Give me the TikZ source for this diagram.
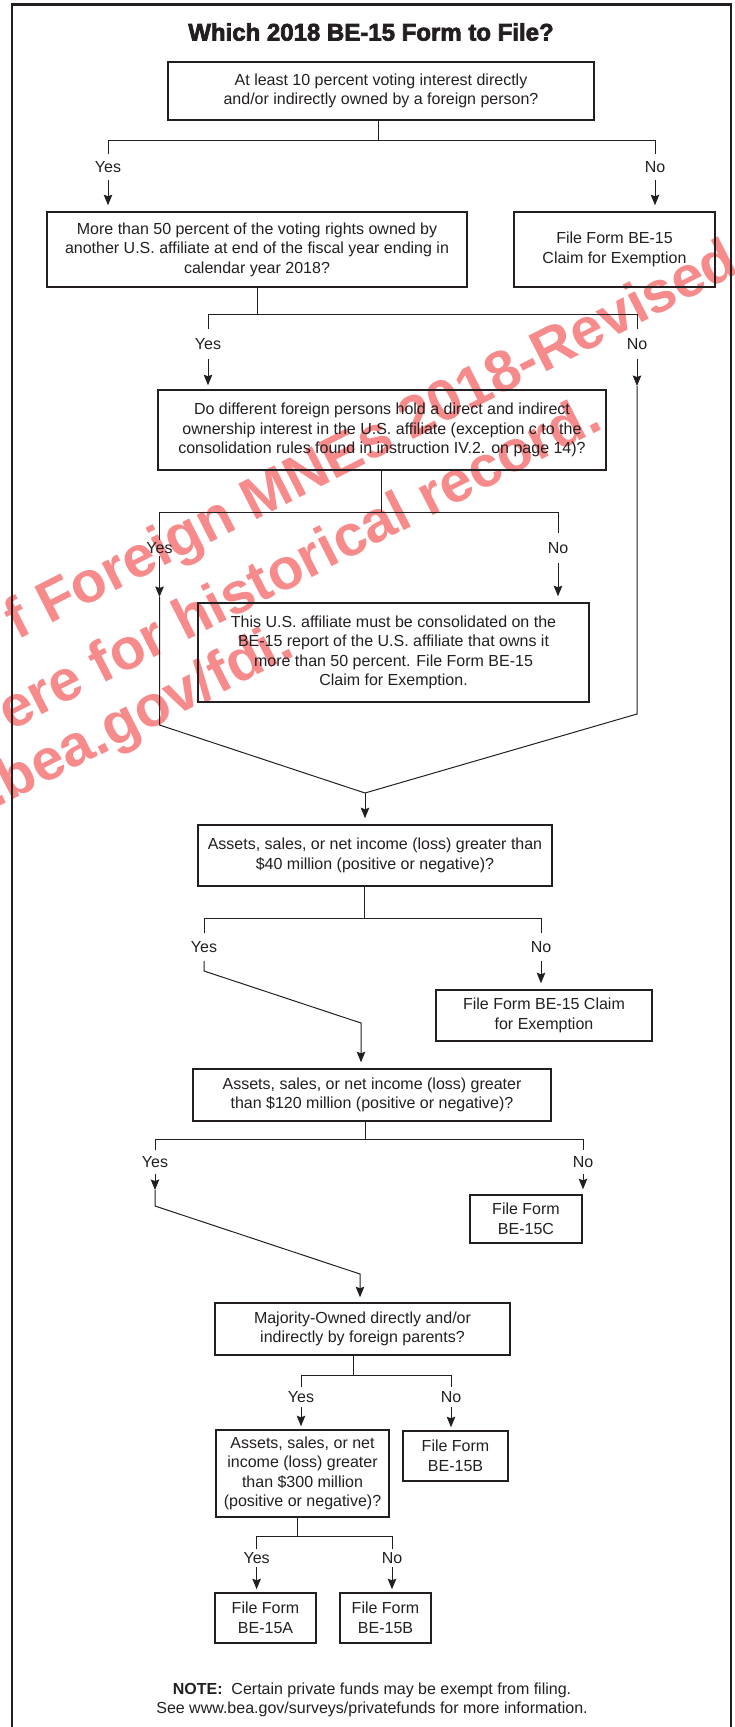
\documentclass[tikz,border=0pt]{standalone}
\usepackage{fontspec}
\setmainfont{Liberation Sans}
\newfontfamily\titlefont{Liberation Sans}[BoldFeatures={FakeBold=3}]
\usetikzlibrary{arrows.meta}
\definecolor{ink}{RGB}{35,31,32}
\definecolor{stamp}{RGB}{247,138,138}

\begin{document}
\begin{tikzpicture}[x=1pt, y=-1pt, color=ink, line width=1pt,
    box/.style={draw, line width=1.5pt, align=center, inner sep=0pt, font=\fontsize{16}{19.5}\selectfont},
    lbl/.style={inner xsep=1pt, inner ysep=#1, text height=11.5pt, text depth=0pt, font=\fontsize{16}{19.5}\selectfont},
    lbl/.default=6.5pt,
    arr/.style={-{Stealth[length=10.5pt, width=8.5pt, inset=1.5pt]}, shorten >=6pt},
    wm/.style={rotate=27, text=stamp, inner sep=0pt, anchor=base east, font=\fontsize{58}{58}\selectfont\bfseries}]

            \useasboundingbox (0,0) rectangle (734,1727);
            \clip (0,0) rectangle (734,1727);

            % Watermark
            \node[wm] (wm1) at (742,272) {f Foreign MNEs 2018-Revised};
            \node[wm] (wm2) at (605,428) {ere for historical record.};
            \node[wm] (wm3) at (297,655) {.bea.gov/fdi.};

            % Frame and title
            \draw[line width=2.5pt] (12,4.5) rectangle (731,1760);
            \node[font=\titlefont\fontsize{24}{26}\selectfont\bfseries] (title) at (371,32) {Which 2018 BE-15 Form to File?};

            % Nodes
            \node[box, minimum width=426pt, minimum height=58pt] (q1) at (381,91) {At least 10 percent voting interest directly\\and/or indirectly owned by a foreign person?};
            \node[box, minimum width=420pt, minimum height=75pt] (q2) at (257,249.5) {More than 50 percent of the voting rights owned by\\another U.S. affiliate at end of the fiscal year ending in\\calendar year 2018?};
            \node[box, minimum width=201pt, minimum height=75pt] (ex1) at (614.5,249.5) {File Form BE-15\\Claim for Exemption};
            \node[box, minimum width=448pt, minimum height=80pt] (q3) at (382,430) {Do different foreign persons hold a direct and indirect\\ownership interest in the U.S. affiliate (exception c to the\\consolidation rules found in instruction IV.2. on page 14)?};
            \node[box, minimum width=391pt, minimum height=99pt] (ex2) at (393.5,652.5) {This U.S. affiliate must be consolidated on the\\BE-15 report of the U.S. affiliate that owns it\\more than 50 percent. File Form BE-15\\Claim for Exemption.};
            \node[box, minimum width=354pt, minimum height=61pt] (q4) at (375,855.5) {Assets, sales, or net income (loss) greater than\\\$40 million (positive or negative)?};
            \node[box, minimum width=216pt, minimum height=51pt] (ex3) at (544,1015.5) {File Form BE-15 Claim\\for Exemption};
            \node[box, minimum width=358pt, minimum height=52pt] (q5) at (372,1095) {Assets, sales, or net income (loss) greater\\than \$120 million (positive or negative)?};
            \node[box, minimum width=112pt, minimum height=48pt] (fc) at (526,1219) {File Form\\BE-15C};
            \node[box, minimum width=295pt, minimum height=52pt] (q6) at (362.5,1329) {Majority-Owned directly and/or\\indirectly by foreign parents?};
            \node[box, minimum width=173pt, minimum height=87pt] (q7) at (302.5,1473.5) {Assets, sales, or net\\income (loss) greater\\than \$300 million\\(positive or negative)?};
            \node[box, minimum width=105pt, minimum height=50pt] (fb1) at (455.5,1456) {File Form\\BE-15B};
            \node[box, minimum width=101pt, minimum height=50pt] (fa) at (265.5,1618) {File Form\\BE-15A};
            \node[box, minimum width=91pt, minimum height=50pt] (fb2) at (385.5,1618) {File Form\\BE-15B};

            \node[align=center, font=\fontsize{16}{19}\selectfont] (note) at (372,1700) {\textbf{NOTE:}\ \ Certain private funds may be exempt from filing.\\See www.bea.gov/surveys/privatefunds for more information.};

            % Labels
            \node[lbl] (y1) at (108,167) {Yes};
            \node[lbl] (n1) at (655,167) {No};
            \node[lbl=9pt] (y2) at (208,344) {Yes};
            \node[lbl=9pt] (n2) at (637,344) {No};
            \node[lbl=1.5pt] (y3) at (159.5,548) {Yes};
            \node[lbl=9pt] (n3) at (558,548) {No};
            \node[lbl=7.5pt] (y4) at (204,947) {Yes};
            \node[lbl=7.5pt] (n4) at (541,947) {No};
            \node[lbl=6pt] (y5) at (155,1162) {Yes};
            \node[lbl=6pt] (n5) at (583,1162) {No};
            \node[lbl=3.5pt] (y6) at (301,1397) {Yes};
            \node[lbl=3.5pt] (n6) at (451,1397) {No};
            \node[lbl=3pt] (y7) at (256.6,1558) {Yes};
            \node[lbl=3pt] (n7) at (392,1558) {No};

            % Junctions and bends
            \coordinate (j1) at (378,140);
            \coordinate (j2) at (257.5,314);
            \coordinate (j3) at (381.6,512);
            \coordinate (j4) at (364,918);
            \coordinate (j5) at (365,1139);
            \coordinate (j6) at (353,1375);
            \coordinate (j7) at (297,1536);
            \coordinate (t2) at (637,386);
            \coordinate (k2) at (637,714);
            \coordinate (t3) at (159.5,597);
            \coordinate (k3) at (159.5,725);
            \coordinate (m1) at (365,793);
            \coordinate (k4) at (204,971);
            \coordinate (m2) at (361,1023);
            \coordinate (t5) at (155,1190);
            \coordinate (k5) at (155,1206);
            \coordinate (m3) at (360,1274);

            % Edges
            \draw (q1.south -| j1) -- (j1);
            \draw (y1.north) -- (y1 |- j1) -- (n1 |- j1) -- (n1.north);
            \draw[arr] (y1.south) -- (y1 |- q2.north);
            \draw[arr] (n1.south) -- (n1 |- ex1.north);

            \draw (q2.south -| j2) -- (j2);
            \draw (y2.north) -- (y2 |- j2) -- (n2 |- j2) -- (n2.north);
            \draw[arr, shorten >=4pt] (y2.south) -- (y2 |- q3.north);
            \draw[arr, shorten >=0pt] (n2.south) -- (t2);
            \draw (t2) -- (k2) -- (m1);

            \draw (q3.south -| j3) -- (j3);
            \draw (y3.north) -- (y3 |- j3) -- (n3 |- j3) -- (n3.north);
            \draw[arr, shorten >=0pt] (y3.south) -- (t3);
            \draw (t3) -- (k3) -- (m1);
            \draw[arr] (n3.south) -- (n3 |- ex2.north);
            \draw[arr] (m1) -- (m1 |- q4.north);

            \draw (q4.south -| j4) -- (j4);
            \draw (y4.north) -- (y4 |- j4) -- (n4 |- j4) -- (n4.north);
            \draw[arr] (y4.south) -- (k4) -- (m2) -- (m2 |- q5.north);
            \draw[arr] (n4.south) -- (n4 |- ex3.north);

            \draw (q5.south -| j5) -- (j5);
            \draw (y5.north) -- (y5 |- j5) -- (n5 |- j5) -- (n5.north);
            \draw[arr, shorten >=0pt] (y5.south) -- (t5);
            \draw[arr, shorten >=5pt] (t5) -- (k5) -- (m3) -- (m3 |- q6.north);
            \draw[arr, shorten >=5pt] (n5.south) -- (n5 |- fc.north);

            \draw (q6.south -| j6) -- (j6);
            \draw (y6.north) -- (y6 |- j6) -- (n6 |- j6) -- (n6.north);
            \draw[arr, shorten >=3pt] (y6.south) -- (y6 |- q7.north);
            \draw[arr, shorten >=3pt] (n6.south) -- (n6 |- fb1.north);

            \draw (q7.south -| j7) -- (j7);
            \draw (y7.north) -- (y7 |- j7) -- (n7 |- j7) -- (n7.north);
            \draw[arr, shorten >=3pt] (y7.south) -- (y7 |- fa.north);
            \draw[arr, shorten >=3pt] (n7.south) -- (n7 |- fb2.north);
\end{tikzpicture}
\end{document}
